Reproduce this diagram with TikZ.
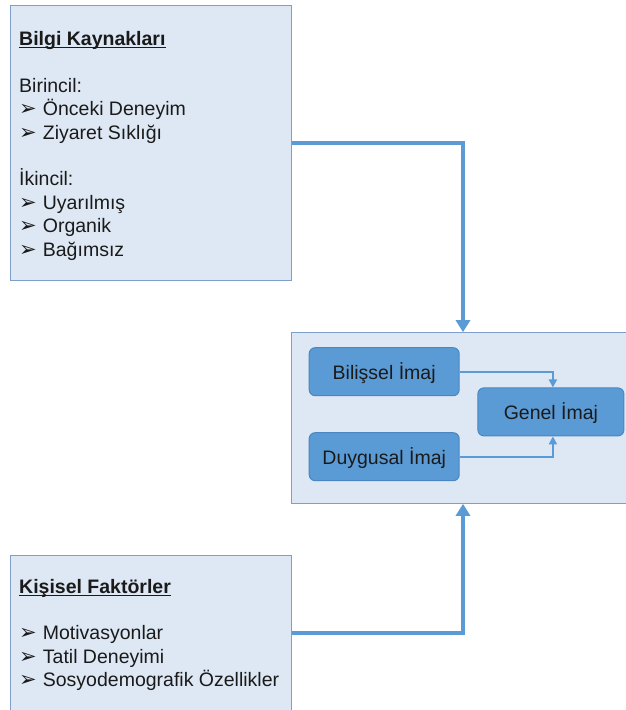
\documentclass[tikz,border=0pt]{standalone}
\usepackage{fontspec}
\setmainfont{Liberation Sans}
\newfontfamily\dingfont{DejaVu Sans}
\usetikzlibrary{arrows.meta}
\definecolor{panelfill}{HTML}{DEE8F4}
\definecolor{paneledge}{HTML}{7F9FC9}
\definecolor{boxfill}{HTML}{5B9BD5}
\definecolor{boxedge}{HTML}{4A87C2}
\definecolor{flow}{HTML}{5B9BD5}
\definecolor{ink}{HTML}{1A1A1A}
\newlength\headw
% bold heading with a rule that runs through the descenders
\newcommand\headline[1]{\settowidth\headw{\bfseries #1}\rlap{\rule[-3pt]{\headw}{1.4pt}}{\bfseries #1}}
% list bullet followed by a fixed indent
\newcommand\bul{\makebox[23.7pt][l]{\dingfont\fontsize{21}{21}\selectfont ➢}}
\begin{document}
\begin{tikzpicture}[x=1pt,y=-1pt,
  font=\fontsize{19.5}{23.4}\selectfont,
  panel/.style={rectangle, draw=paneledge, fill=panelfill, line width=1pt, inner sep=0pt},
  imagebox/.style={rectangle, draw=boxedge, fill=boxfill, line width=1pt,
    rounded corners=6pt, minimum height=48pt, inner sep=0pt,
    text height=15.2pt, text depth=0pt, text=ink},
  bigflow/.style={draw=flow, line width=3.6pt, -{Triangle[width=14pt,length=12pt]}},
  smallflow/.style={draw=flow, line width=2pt, -{Triangle[width=8pt,length=8pt]}},
  listtext/.style={anchor=base west, align=left, inner sep=0pt, text=ink}]
\useasboundingbox (0,0) rectangle (626,710);

% outer panels
\node[panel, minimum width=281pt, minimum height=275pt] (src) at (150.5,143.2) {};
\node[panel, minimum width=281pt, minimum height=156pt] (fac) at (150.5,633) {};
\node[panel, minimum width=344pt, minimum height=170.6pt] (mid) at (463,418) {};

% panel texts (anchored on the baseline of their last line)
\node[listtext] (srctext) at (19,256) {\headline{Bilgi Kaynakları}\\[23.4pt]
  Birincil:\\
  \bul Önceki Deneyim\\
  \bul Ziyaret Sıklığı\\[23.4pt]
  İkincil:\\
  \bul Uyarılmış\\
  \bul Organik\\
  \bul Bağımsız};
\node[listtext] (factext) at (19,686.7) {\headline{Kişisel Faktörler}\\[23.4pt]
  \bul Motivasyonlar\\
  \bul Tatil Deneyimi\\
  \bul Sosyodemografik Özellikler};

% image components
\node[imagebox, minimum width=150pt] (bil) at (384.2,371.7) {Bilişsel İmaj};
\node[imagebox, minimum width=150pt] (duy) at (384.2,456.7) {Duygusal İmaj};
\node[imagebox, minimum width=146pt] (gen) at (550.9,411.9) {Genel İmaj};

% flows
\draw[bigflow] (src.east) -| (mid.north);
\draw[bigflow] (fac.east) -| (mid.south);
\draw[smallflow] (bil.east) -| ([xshift=2pt]gen.north);
\draw[smallflow] (duy.east) -| ([xshift=2pt]gen.south);
\end{tikzpicture}
\end{document}
